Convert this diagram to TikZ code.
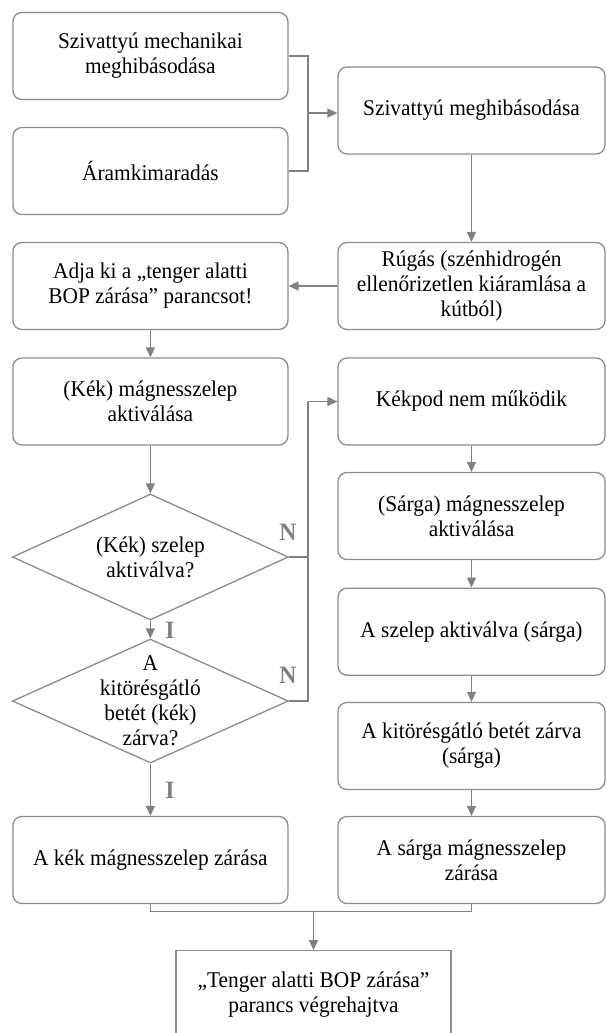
\documentclass[tikz,border=0pt]{standalone}
\usepackage{fontspec}
\setmainfont{Liberation Serif}[FakeStretch=0.95]
\usetikzlibrary{shapes.geometric,arrows.meta}
\definecolor{lg}{RGB}{128,128,128}
\definecolor{bg}{RGB}{140,140,140}
\tikzset{
  box/.style={draw=bg, line width=1.3pt, rounded corners=9pt, minimum width=275pt, minimum height=87pt, align=center, inner sep=2pt, font=\fontsize{22.5}{25}\selectfont},
  rbox/.style={box, minimum width=267pt},
  fbox/.style={box, rounded corners=0pt},
  dia/.style={draw=bg, line width=1.3pt, shape=diamond, minimum width=276pt, inner sep=0pt},
  dtext/.style={align=center, font=\fontsize{22.5}{25}\selectfont},
  conn/.style={draw=lg, line width=1.3pt},
  arr/.style={conn, -{Triangle[length=10pt,width=9pt]}},
  lab/.style={text=lg, font=\fontsize{25}{25}\selectfont\bfseries, inner sep=0pt}
}
\begin{document}
\begin{tikzpicture}[x=1pt,y=-1pt]
\clip (0,0) rectangle (606,1033);
\fill[white] (0,0) rectangle (606,1033);

\node[box] (A) at (150.4,56) {Szivattyú mechanikai\\meghibásodása};
\node[box] (B) at (150.4,171) {Áramkimaradás};
\node[rbox] (C) at (471.5,110.5) {Szivattyú meghibásodása};
\node[rbox] (R) at (471.5,286) {Rúgás (szénhidrogén\\ellenőrizetlen kiáramlása a\\kútból)};
\node[box] (P) at (150.4,286) {Adja ki a „tenger alatti\\BOP zárása” parancsot!};
\node[box] (K) at (150.4,401.5) {(Kék) mágnesszelep\\aktiválása};
\node[rbox] (KP) at (471.5,401.5) {Kékpod nem működik};
\node[rbox] (S) at (471.5,516) {(Sárga) mágnesszelep\\aktiválása};
\node[rbox] (SA) at (471.5,631.7) {A szelep aktiválva (sárga)};
\node[rbox] (KB) at (471.5,746) {A kitörésgátló betét zárva\\(sárga)};
\node[box] (KZ) at (150.4,860) {A kék mágnesszelep zárása};
\node[rbox] (SZ) at (471.5,860) {A sárga mágnesszelep\\zárása};
\node[fbox] (F) at (313.5,994.2) {„Tenger alatti BOP zárása”\\parancs végrehajtva};

\node[dia, minimum height=126pt] (D1) at (150.4,557) {};
\node[dtext] (T1) at (D1.center) {(Kék) szelep\\aktiválva?};
\node[dia, minimum height=124pt] (D2) at (150.4,701) {};
\node[dtext] (T2) at (D2.center) {A\\kitörésgátló\\betét (kék)\\zárva?};

\coordinate (j1) at (308,113);
\draw[conn] (A.east) -| (j1);
\draw[conn] (B.east) -| (j1);
\draw[arr] (j1) -- (j1 -| C.west);

\draw[arr] (C.south) -- (R.north);
\draw[arr] (R.west) -- (P.east);
\draw[arr] (P.south) -- (K.north);
\draw[arr] (K.south) -- (D1.north);
\draw[arr] (D1.south) -- (D2.north);
\draw[arr] (D2.south) -- (KZ.north);

\coordinate (j2) at (308,401.5);
\draw[conn] (D1.east) -| (j2);
\draw[conn] (D2.east) -| (j2);
\draw[arr] (j2) -- (KP.west);

\draw[arr] (KP.south) -- (S.north);
\draw[arr] (S.south) -- (SA.north);
\draw[arr] (SA.south) -- (KB.north);
\draw[arr] (KB.south) -- (SZ.north);

\coordinate (m) at (313.5,911.7);
\draw[conn] (KZ.south) |- (m);
\draw[conn] (SZ.south) |- (m);
\draw[arr] (m) -- (F.north);

\node[lab] (N1) at (288,532.5) {N};
\node[lab] (N2) at (288,675.8) {N};
\node[lab] (I1) at (170,630.8) {I};
\node[lab] (I2) at (170,790.8) {I};
\end{tikzpicture}
\end{document}
